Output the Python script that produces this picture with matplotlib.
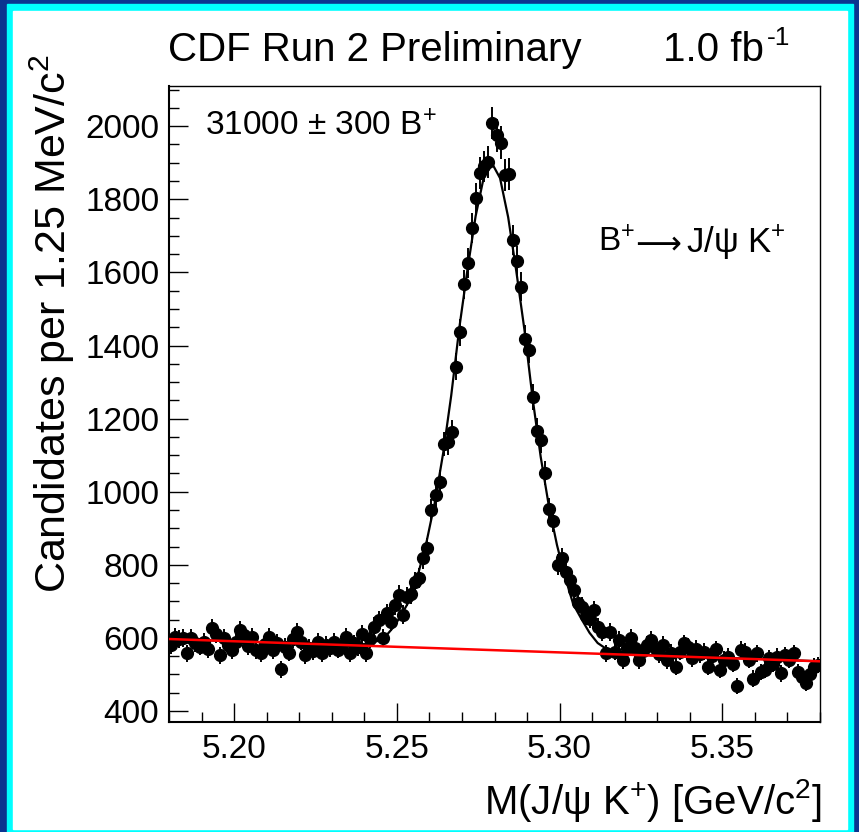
import numpy as np
import matplotlib
matplotlib.use('Agg')
import matplotlib.pyplot as plt
from matplotlib.patches import Rectangle
from matplotlib.ticker import MultipleLocator, FixedLocator

plt.rcParams['font.family'] = ['Liberation Sans', 'DejaVu Sans']
plt.rcParams['mathtext.fontset'] = 'custom'
plt.rcParams['mathtext.rm'] = 'Liberation Sans'
plt.rcParams['mathtext.it'] = 'Liberation Sans:italic'
plt.rcParams['mathtext.default'] = 'regular'

# histogram: 1.25 MeV bins from 5.18 to 5.38 GeV
x_lo = 5.18
bin_w = 0.00125
counts = [
    580, 603, 596, 600, 558, 600, 585, 576, 590, 570,
    626, 612, 553, 600, 580, 567, 590, 622, 608, 578,
    603, 567, 558, 584, 603, 567, 586, 514, 575, 560,
    598, 617, 590, 553, 572, 563, 590, 558, 580, 572,
    590, 568, 580, 603, 558, 585, 575, 612, 558, 596,
    631, 649, 600, 667, 644, 690, 717, 663, 713, 720,
    754, 763, 818, 845, 950, 990, 1027, 1131, 1135, 1163,
    1342, 1436, 1568, 1626, 1721, 1803, 1872, 1890, 1902, 2009,
    1975, 1955, 1867, 1870, 1688, 1631, 1561, 1419, 1389, 1260,
    1167, 1141, 1052, 952, 920, 800, 818, 781, 758, 731,
    695, 685, 660, 653, 676, 630, 617, 558, 617, 562,
    594, 539, 572, 599, 572, 539, 565, 580, 594, 572,
    555, 580, 539, 560, 521, 562, 585, 576, 544, 570,
    555, 562, 521, 550, 569, 512, 540, 548, 530, 468,
    567, 562, 540, 489, 558, 507, 512, 544, 530, 548,
    503, 553, 540, 558, 507, 494, 476, 500, 521, 526,
]

# fitted total (signal + background)
fit_x = [5.18, 5.20, 5.22, 5.2367, 5.2392, 5.2417, 5.2442, 5.2467, 5.2492,
         5.2517, 5.2542, 5.2567, 5.2592, 5.2617, 5.2642, 5.2667, 5.2692,
         5.2717, 5.2742, 5.2767, 5.2792, 5.2817, 5.2842, 5.2867, 5.2892,
         5.2917, 5.2942, 5.2967, 5.2992, 5.3017, 5.3042, 5.3067, 5.3092,
         5.3117, 5.3142, 5.3167, 5.3192, 5.3217, 5.34, 5.36, 5.38]
fit_y = [597, 591, 585, 581, 582, 585, 592, 606, 632,
         668, 708, 780, 866, 972, 1104, 1263, 1449,
         1608, 1754, 1860, 1899, 1858, 1751, 1603, 1443,
         1256, 1095, 961, 854, 766, 692, 652, 614,
         586, 571, 562, 557, 555, 549, 543, 536]

# background component
bkg_x = [5.18, 5.38]
bkg_y = [597, 536]

centers = x_lo + bin_w * (np.arange(len(counts)) + 0.5)
errs = np.sqrt(counts)

W, H = 859, 832
fig = plt.figure(figsize=(W / 100, H / 100), dpi=100)
fig.patch.set_facecolor('#0b3590')
fig.add_artist(Rectangle((7 / W, 0), (853 - 7) / W, 1 - 4 / H,
                         transform=fig.transFigure, color='#00ffff', zorder=0))
fig.add_artist(Rectangle((13 / W, 3 / H), (847 - 13) / W, (829 - 11) / H,
                         transform=fig.transFigure, color='white', zorder=0))

ax = fig.add_axes([169 / W, 1 - 722 / H, (820 - 169) / W, (722 - 86) / H])
ax.errorbar(centers, counts, yerr=errs, fmt='o', color='black', ms=8.5,
            elinewidth=1.4, capsize=0, zorder=3)
ax.plot(fit_x, fit_y, color='black', lw=1.6, zorder=4)
ax.plot(bkg_x, bkg_y, color='red', lw=1.8, zorder=5)

ax.set_xlim(5.18, 5.38)
ax.set_ylim(370, 2110)
ax.xaxis.set_major_locator(FixedLocator([5.20, 5.25, 5.30, 5.35]))
ax.set_xticklabels(['5.20', '5.25', '5.30', '5.35'])
ax.xaxis.set_minor_locator(MultipleLocator(0.01))
ax.yaxis.set_major_locator(FixedLocator([400, 600, 800, 1000, 1200, 1400, 1600, 1800, 2000]))
ax.yaxis.set_minor_locator(MultipleLocator(50))
ax.tick_params(which='both', direction='in', top=False, right=False, width=1.0)
ax.tick_params(which='major', length=13.5, labelsize=24)
ax.tick_params(axis='x', which='major', pad=9)
ax.tick_params(axis='y', which='major', pad=7)
ax.tick_params(which='minor', length=7)
for s in ['left', 'bottom']:
    ax.spines[s].set_linewidth(1.5)
for s in ['top', 'right']:
    ax.spines[s].set_linewidth(1.0)

fig.text(168 / W, 1 - 50 / H, 'CDF Run 2 Preliminary', fontsize=29, va='center')
fig.text(663 / W, 1 - 50 / H, '1.0 fb', fontsize=29, va='center')
fig.text(767 / W, 1 - 38 / H, '-1', fontsize=19, va='center')
fig.text(205 / W, 1 - 127 / H, '31000 ± 300 B$^{+}$', fontsize=24, va='center')
fig.text(598 / W, 1 - 243 / H, 'B$^{+}$', fontsize=24, va='center')
fig.text(635 / W, 1 - 245 / H, '⟶', fontsize=23, va='center', family=['DejaVu Sans'])
fig.text(686 / W, 1 - 243 / H, 'J/ψ K$^{+}$', fontsize=25, va='center')
fig.text(52 / W, 1 - 324 / H, 'Candidates per 1.25 MeV/c$^{2}$', fontsize=31,
         rotation=90, ha='center', va='center')
fig.text(822 / W, 1 - 800 / H, 'M(J/ψ K$^{+}$) [GeV/c$^{2}$]', fontsize=29,
         ha='right', va='center')

fig.savefig('out.png', dpi=100, facecolor=fig.get_facecolor())
